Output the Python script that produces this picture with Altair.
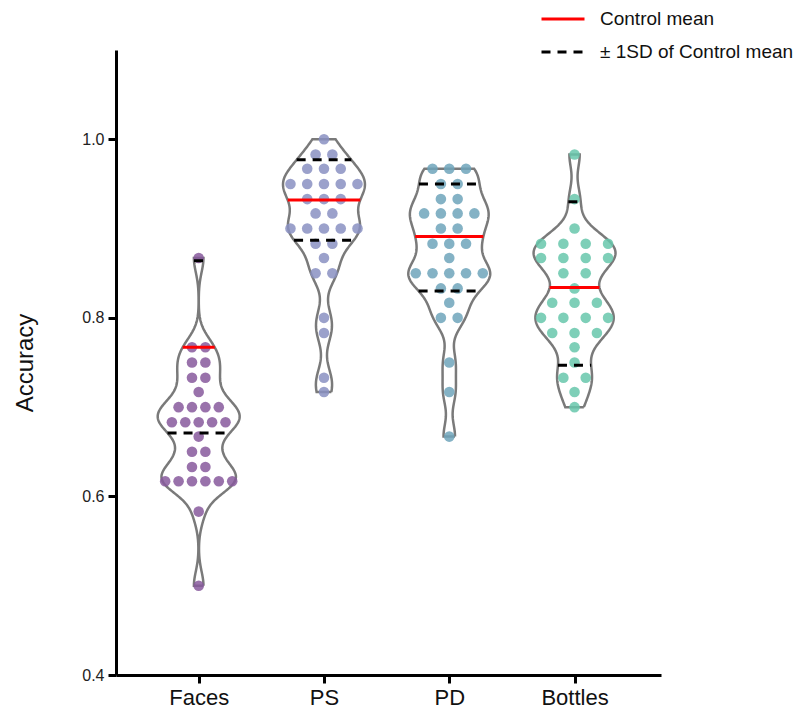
import numpy as np
import pandas as pd
import altair as alt

# ---------------- data ----------------
categories = ["Faces", "PS", "PD", "Bottles"]

faces = [0.867, 0.767, 0.767, 0.750, 0.750, 0.733, 0.733, 0.717,
         0.700, 0.700, 0.700, 0.700, 0.683, 0.683, 0.683, 0.683, 0.683,
         0.667, 0.650, 0.650, 0.633, 0.633,
         0.617, 0.617, 0.617, 0.617, 0.617, 0.617, 0.583, 0.500]
ps = [1.000, 0.983, 0.983, 0.967, 0.967, 0.967,
      0.950, 0.950, 0.950, 0.950, 0.950, 0.933, 0.933, 0.933,
      0.917, 0.917, 0.900, 0.900, 0.900, 0.900, 0.900,
      0.883, 0.883, 0.867, 0.850, 0.850, 0.800, 0.783, 0.733, 0.717]
pd_vals = [0.967, 0.967, 0.967, 0.950, 0.950, 0.933, 0.933,
           0.917, 0.917, 0.917, 0.917, 0.900, 0.900,
           0.883, 0.883, 0.883, 0.867,
           0.850, 0.850, 0.850, 0.850, 0.850, 0.833, 0.833, 0.817,
           0.800, 0.800, 0.750, 0.717, 0.667]
bottles = [0.983, 0.933, 0.900, 0.883, 0.883, 0.883, 0.883,
           0.867, 0.867, 0.867, 0.867, 0.850, 0.850, 0.833,
           0.817, 0.817, 0.817, 0.800, 0.800, 0.800, 0.800,
           0.783, 0.783, 0.783, 0.767, 0.750, 0.733, 0.733, 0.717, 0.700]
series = [faces, ps, pd_vals, bottles]

control_mean = [0.767, 0.932, 0.891, 0.834]
control_lower = [0.671, 0.887, 0.830, 0.747]
control_upper = [0.864, 0.977, 0.950, 0.930]

dot_colors = ["#87599c", "#8a90c2", "#6ea5bb", "#67c7ab"]
legend_labels = ["Control mean", "\u00b1 1SD of Control mean"]

# ---------------- layout helpers ----------------
X_DOMAIN = [0.34, 4.69]
VIOLIN_HALF = 0.327      # max half-width of a violin (x units)
SWARM_SPAN = 0.535       # total spread of the widest dot row (x units)
BW = 0.016               # kde bandwidth


def kde(vals, grid):
    v = np.asarray(vals)[None, :]
    g = np.asarray(grid)[:, None]
    return np.exp(-0.5 * ((g - v) / BW) ** 2).sum(axis=1)


violin_rows, dot_rows, line_rows = [], [], []
for i, (cat, vals) in enumerate(zip(categories, series)):
    c = i + 1
    lo, hi = min(vals), max(vals)
    grid = np.linspace(lo, hi, 240)
    dens = kde(vals, grid)
    dmax = dens.max()
    w = dens / dmax * VIOLIN_HALF
    k = 0
    for y, ww in zip(grid, w):
        violin_rows.append({"cat": cat, "x": c + ww, "y": y, "o": k}); k += 1
    for y, ww in zip(grid[::-1], w[::-1]):
        violin_rows.append({"cat": cat, "x": c - ww, "y": y, "o": k}); k += 1
    violin_rows.append({"cat": cat, "x": c + w[0], "y": grid[0], "o": k})

    # swarm dots: rows of equal value, centred
    uniq, counts = np.unique(vals, return_counts=True)
    step = SWARM_SPAN / (counts.max() - 1)
    for u, n in zip(uniq, counts):
        for j in range(n):
            dot_rows.append({"cat": cat, "x": c + (j - (n - 1) / 2) * step, "y": u})

    # control lines clipped to violin width
    for val, kind in [(control_mean[i], legend_labels[0]),
                      (control_lower[i], legend_labels[1]),
                      (control_upper[i], legend_labels[1])]:
        half = kde(vals, [val])[0] / dmax * VIOLIN_HALF
        line_rows.append({"cat": cat, "x": c - half, "x2": c + half, "y": val, "kind": kind})

vdf = pd.DataFrame(violin_rows)
ddf = pd.DataFrame(dot_rows)
ldf = pd.DataFrame(line_rows)

FONT = "Liberation Sans"
label_expr = " : ".join(f"datum.value == {i+1} ? '{c}'" for i, c in enumerate(categories)) + " : ''"

xscale = alt.Scale(domain=X_DOMAIN, nice=False, zero=False)
yscale = alt.Scale(domain=[0.4, 1.1], nice=False, zero=False)

xaxis = alt.Axis(values=[1, 2, 3, 4], labelExpr=label_expr, title=None, grid=False,
                 domainColor="black", domainWidth=3, tickColor="black", tickWidth=3,
                 tickSize=8, labelFont=FONT, labelFontSize=22, labelColor="#111",
                 labelPadding=4)
yaxis = alt.Axis(values=[0.4, 0.6, 0.8, 1.0], format=".1f", title="Accuracy", grid=False,
                 domainColor="black", domainWidth=3, tickColor="black", tickWidth=3,
                 tickSize=8, labelFont=FONT, labelFontSize=16, labelColor="#222",
                 labelPadding=4, titleFont=FONT, titleFontSize=24, titleFontWeight="normal",
                 titleColor="#111", titlePadding=44)

violin = alt.Chart(vdf).mark_line(color="#7a7a7a", strokeWidth=2.5).encode(
    x=alt.X("x:Q", scale=xscale, axis=xaxis),
    y=alt.Y("y:Q", scale=yscale, axis=yaxis),
    detail="cat:N",
    order="o:Q",
)

dots = alt.Chart(ddf).mark_circle(size=112, opacity=0.85).encode(
    x=alt.X("x:Q", scale=xscale),
    y=alt.Y("y:Q", scale=yscale),
    color=alt.Color("cat:N", scale=alt.Scale(domain=categories, range=dot_colors), legend=None),
)

legend = alt.Legend(title=None, orient="none", legendX=424, legendY=-54, symbolType="stroke",
                    symbolSize=1849, symbolStrokeWidth=3, labelFont=FONT, labelFontSize=19,
                    labelColor="#111", labelOffset=14, rowPadding=-9, labelLimit=0)
lines = alt.Chart(ldf).mark_rule(strokeWidth=3).encode(
    x=alt.X("x:Q", scale=xscale),
    x2="x2:Q",
    y=alt.Y("y:Q", scale=yscale),
    stroke=alt.Stroke("kind:N", scale=alt.Scale(domain=legend_labels, range=["#ff0000", "#000000"]),
                      legend=legend),
    strokeDash=alt.StrokeDash("kind:N", scale=alt.Scale(domain=legend_labels, range=[[1, 0], [9, 7]]),
                              legend=legend),
)

chart = alt.layer(violin, dots, lines).resolve_scale(color="independent").properties(
    width=545, height=625,
    padding={"left": 108, "top": 42, "right": 140, "bottom": 34},
    autosize=alt.AutoSizeParams(type="none"),
).configure(background="white").configure_view(stroke=None)

chart.save("out.html", embed_options={"renderer": "svg", "actions": False})
